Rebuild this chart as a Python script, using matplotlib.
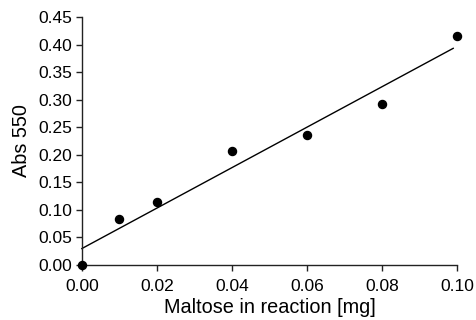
import matplotlib
matplotlib.use("Agg")
import matplotlib.pyplot as plt
import numpy as np

plt.rcParams['font.family'] = ['Liberation Sans', 'DejaVu Sans']

maltose = [0.00, 0.01, 0.02, 0.04, 0.06, 0.08, 0.10]
absorb = [0.000, 0.083, 0.115, 0.206, 0.235, 0.292, 0.415]
xticks = [0.00, 0.02, 0.04, 0.06, 0.08, 0.10]
yticks = [0.00, 0.05, 0.10, 0.15, 0.20, 0.25, 0.30, 0.35, 0.40, 0.45]

fig = plt.figure(figsize=(4.76, 3.2), dpi=100)
ax = fig.add_axes([0.172, 0.172, 0.788, 0.775])

slope, intercept = np.polyfit(maltose, absorb, 1)
xl = np.array([0.0, 0.099])
ax.plot(xl, intercept + slope * xl, color='black', lw=1.0, clip_on=False)
ax.plot(maltose, absorb, 'o', color='black', ms=5.8, clip_on=False, zorder=5)

ax.set_xlim(0, 0.10)
ax.set_ylim(0, 0.45)
ax.set_xticks(xticks)
ax.set_xticklabels([f"{v:.2f}" for v in xticks])
ax.set_yticks(yticks)
ax.set_yticklabels([f"{v:.2f}" for v in yticks])
for s in ['top', 'right']:
    ax.spines[s].set_visible(False)
for s in ['left', 'bottom']:
    ax.spines[s].set_linewidth(1.0)
    ax.spines[s].set_color('#222222')
ax.tick_params(direction='out', length=4.3, width=1.0, color='#222222',
               labelsize=12.5)
ax.tick_params(axis='y', pad=2.5)
ax.tick_params(axis='x', pad=5.5)
ax.set_xlabel('Maltose in reaction [mg]', fontsize=14.3, labelpad=3)
ax.set_ylabel('Abs 550', fontsize=14.3, labelpad=5)

fig.savefig('out.png', dpi=100)
